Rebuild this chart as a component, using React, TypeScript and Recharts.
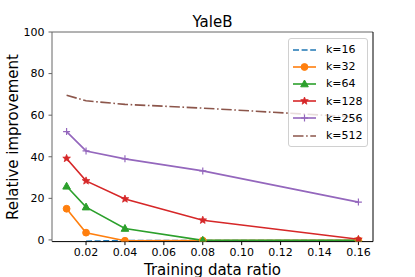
import { LineChart, Line, XAxis, YAxis, Legend, ReferenceLine } from 'recharts'

const FONT = '"DejaVu Sans", sans-serif'

const ratios = [0.01, 0.02, 0.04, 0.08, 0.16]
const k16 = [null, -0.6, -0.3, -0.3, -0.3]
const k32 = [15, 3.5, -0.4, -0.3, -0.2]
const k64 = [25.8, 15.8, 5.5, -0.2, -0.2]
const k128 = [39.2, 28.4, 19.7, 9.5, 0.3]
const k256 = [52.1, 42.8, 39, 33.2, 18.2]
const k512 = [69.6, 66.9, 65.2, 63.4, 59]

const xTicks = [0.02, 0.04, 0.06, 0.08, 0.1, 0.12, 0.14, 0.16]
const yTicks = [0, 20, 40, 60, 80, 100]
const xDomain = [0.0025, 0.1675]
const yDomain = [-0.8, 100]

type MarkerKind = 'none' | 'circle' | 'triangle' | 'star' | 'plus'

interface Series {
  key: string
  name: string
  color: string
  dash?: string
  marker: MarkerKind
}

const series: Series[] = [
  { key: 'k16', name: 'k=16', color: '#1f77b4', dash: '6 2.6', marker: 'none' },
  { key: 'k32', name: 'k=32', color: '#ff7f0e', marker: 'circle' },
  { key: 'k64', name: 'k=64', color: '#2ca02c', marker: 'triangle' },
  { key: 'k128', name: 'k=128', color: '#d62728', marker: 'star' },
  { key: 'k256', name: 'k=256', color: '#9467bd', marker: 'plus' },
  { key: 'k512', name: 'k=512', color: '#8c564b', dash: '10.5 2.6 1.6 2.6', marker: 'none' }
]

const data = ratios.map((x, i) => ({
  x,
  k16: k16[i],
  k32: k32[i],
  k64: k64[i],
  k128: k128[i],
  k256: k256[i],
  k512: k512[i]
}))

function starPoints(cx: number, cy: number, outer: number, inner: number) {
  const pts: string[] = []
  for (let i = 0; i < 10; i++) {
    const r = i % 2 === 0 ? outer : inner
    const a = -Math.PI / 2 + (i * Math.PI) / 5
    pts.push(`${cx + r * Math.cos(a)},${cy + r * Math.sin(a)}`)
  }
  return pts.join(' ')
}

function Marker({ kind, cx, cy, color }: { kind: MarkerKind; cx: number; cy: number; color: string }) {
  if (kind === 'circle') return <circle cx={cx} cy={cy} r={3.4} fill={color} stroke={color} strokeWidth={1} />
  if (kind === 'triangle')
    return (
      <polygon
        points={`${cx},${cy - 4} ${cx - 3.8},${cy + 2.8} ${cx + 3.8},${cy + 2.8}`}
        fill={color}
        stroke={color}
        strokeWidth={1}
      />
    )
  if (kind === 'star') return <polygon points={starPoints(cx, cy, 4, 1.7)} fill={color} stroke={color} strokeWidth={0.8} />
  if (kind === 'plus')
    return (
      <g stroke={color} strokeWidth={1.2}>
        <line x1={cx - 3.5} y1={cy} x2={cx + 3.5} y2={cy} />
        <line x1={cx} y1={cy - 3.5} x2={cx} y2={cy + 3.5} />
      </g>
    )
  return null
}

const makeDot = (s: Series) => (props: any) => {
  const { cx, cy, index } = props
  if (cx == null || cy == null || props.value == null) return <g key={`${s.key}-${index}`} />
  return (
    <g key={`${s.key}-${index}`}>
      <Marker kind={s.marker} cx={cx} cy={cy} color={s.color} />
    </g>
  )
}

function LegendBox() {
  return (
    <div
      style={{
        background: 'rgba(255,255,255,0.8)',
        border: '1px solid #d0d0d0',
        borderRadius: 3,
        padding: '2px 0 2px 4px',
        width: 80,
        boxSizing: 'border-box',
        fontFamily: FONT,
        fontSize: 11
      }}
    >
      {series.map((s) => (
        <div key={s.key} style={{ display: 'flex', alignItems: 'center', height: 17.2 }}>
          <svg width={24} height={10} style={{ marginRight: 9 }}>
            <line x1={0} y1={5} x2={23} y2={5} stroke={s.color} strokeWidth={1.6} strokeDasharray={s.dash} />
            <Marker kind={s.marker} cx={11.5} cy={5} color={s.color} />
          </svg>
          <span style={{ color: '#000' }}>{s.name}</span>
        </div>
      ))}
    </div>
  )
}

const tickStyle = { fontSize: 11, fill: '#000', fontFamily: FONT }

export default function App() {
  return (
    <div style={{ position: 'absolute', left: 0, top: 0, width: 415, height: 277, background: '#fff' }}>
      <LineChart width={415} height={277} data={data} margin={{ top: 32, right: 42, bottom: 5.4, left: 12 }}>
        <XAxis
          dataKey="x"
          type="number"
          domain={xDomain}
          ticks={xTicks}
          tickFormatter={(v: number) => v.toFixed(2)}
          allowDataOverflow
          height={30}
          tick={tickStyle}
          tickSize={3.5}
          tickMargin={3}
          stroke="#000"
          interval={0}
        />
        <YAxis
          type="number"
          domain={yDomain}
          ticks={yTicks}
          allowDataOverflow
          width={40}
          tick={tickStyle}
          tickSize={3.5}
          tickMargin={4}
          stroke="#666"
          interval={0}
        />
        <ReferenceLine y={yDomain[1]} stroke="#666" strokeWidth={1} />
        <ReferenceLine x={xDomain[1]} stroke="#000" strokeWidth={1} />
        {series.map((s) => (
          <Line
            key={s.key}
            dataKey={s.key}
            name={s.name}
            type="linear"
            stroke={s.color}
            strokeWidth={1.6}
            strokeDasharray={s.dash}
            dot={s.marker === 'none' ? false : makeDot(s)}
            activeDot={false}
            connectNulls={false}
            isAnimationActive={false}
          />
        ))}
        <Legend
          content={() => <LegendBox />}
          layout="horizontal"
          verticalAlign="middle"
          align="center"
          wrapperStyle={{ position: 'absolute', left: 288, top: 38, width: 80 }}
        />
      </LineChart>
      <svg
        width={415}
        height={277}
        style={{ position: 'absolute', left: 0, top: 0, pointerEvents: 'none' }}
        fontFamily={FONT}
      >
        <text x={212.5} y={22} textAnchor="middle" dominantBaseline="central" fontSize={15} fill="#000">
          YaleB
        </text>
        <text x={212.5} y={270} textAnchor="middle" dominantBaseline="central" fontSize={15} fill="#000">
          Training data ratio
        </text>
        <text
          x={13}
          y={137}
          textAnchor="middle"
          dominantBaseline="central"
          fontSize={15}
          fill="#000"
          transform="rotate(-90 13 137)"
        >
          Relative improvement
        </text>
      </svg>
    </div>
  )
}
